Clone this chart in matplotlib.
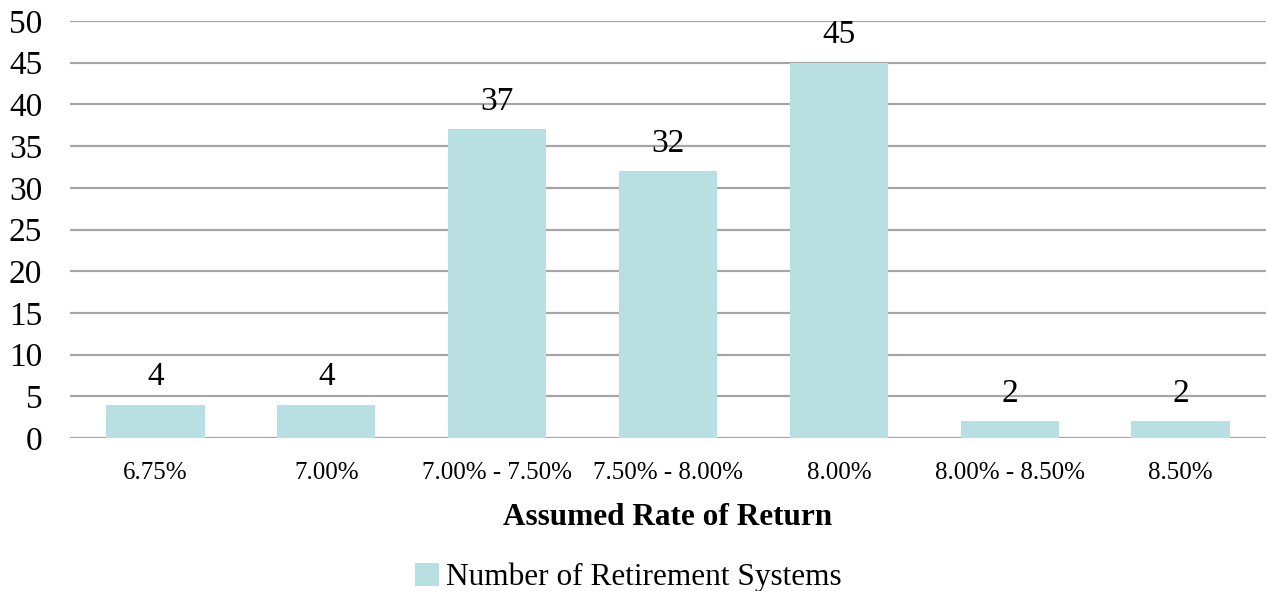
import numpy as np
import matplotlib.pyplot as plt

# assumed rate of return buckets and the number of systems in each
categories = ["6.75%", "7.00%", "7.00% - 7.50%", "7.50% - 8.00%",
              "8.00%", "8.00% - 8.50%", "8.50%"]
counts = [4, 4, 37, 32, 45, 2, 2]
yticks = list(range(0, 55, 5))

plt.rcParams["font.family"] = ["Liberation Serif", "DejaVu Serif"]

fig = plt.figure(figsize=(12.66, 5.91), dpi=100)
ax = fig.add_axes([70/1266, 1 - 438/591, 1 - 70/1266, (438 - 21)/591])

x = np.arange(len(categories))
bars = ax.bar(x, counts, width=0.575, color="#b8dfe2", zorder=2,
              label="Number of Retirement Systems")

for xi, v in zip(x, counts):
    ax.annotate(str(v), (xi, v), xytext=(0, 9), textcoords="offset points",
                ha="center", va="bottom", fontsize=24, zorder=3)

ax.set_xlim(-0.5, len(categories) - 0.5)
ax.set_ylim(0, 50)
ax.set_yticks(yticks)
ax.set_xticks(x)
ax.set_xticklabels(categories, fontsize=18)
ax.tick_params(axis="y", labelsize=24, length=0, pad=20)
ax.tick_params(axis="x", length=0, pad=17)
ax.grid(axis="y", color="#a6a6a6", linewidth=1.6, zorder=0)
for s in ax.spines.values():
    s.set_visible(False)

ax.set_xlabel("Assumed Rate of Return", fontsize=22.5, fontweight="bold",
              labelpad=14)

# legend sits centred on the figure rather than the axes
ax.legend(loc="center", bbox_to_anchor=(0.467, -0.335), frameon=False,
          fontsize=22.5, handlelength=0.75, handleheight=0.75,
          handletextpad=0.25)

fig.savefig("out.png", dpi=100)
